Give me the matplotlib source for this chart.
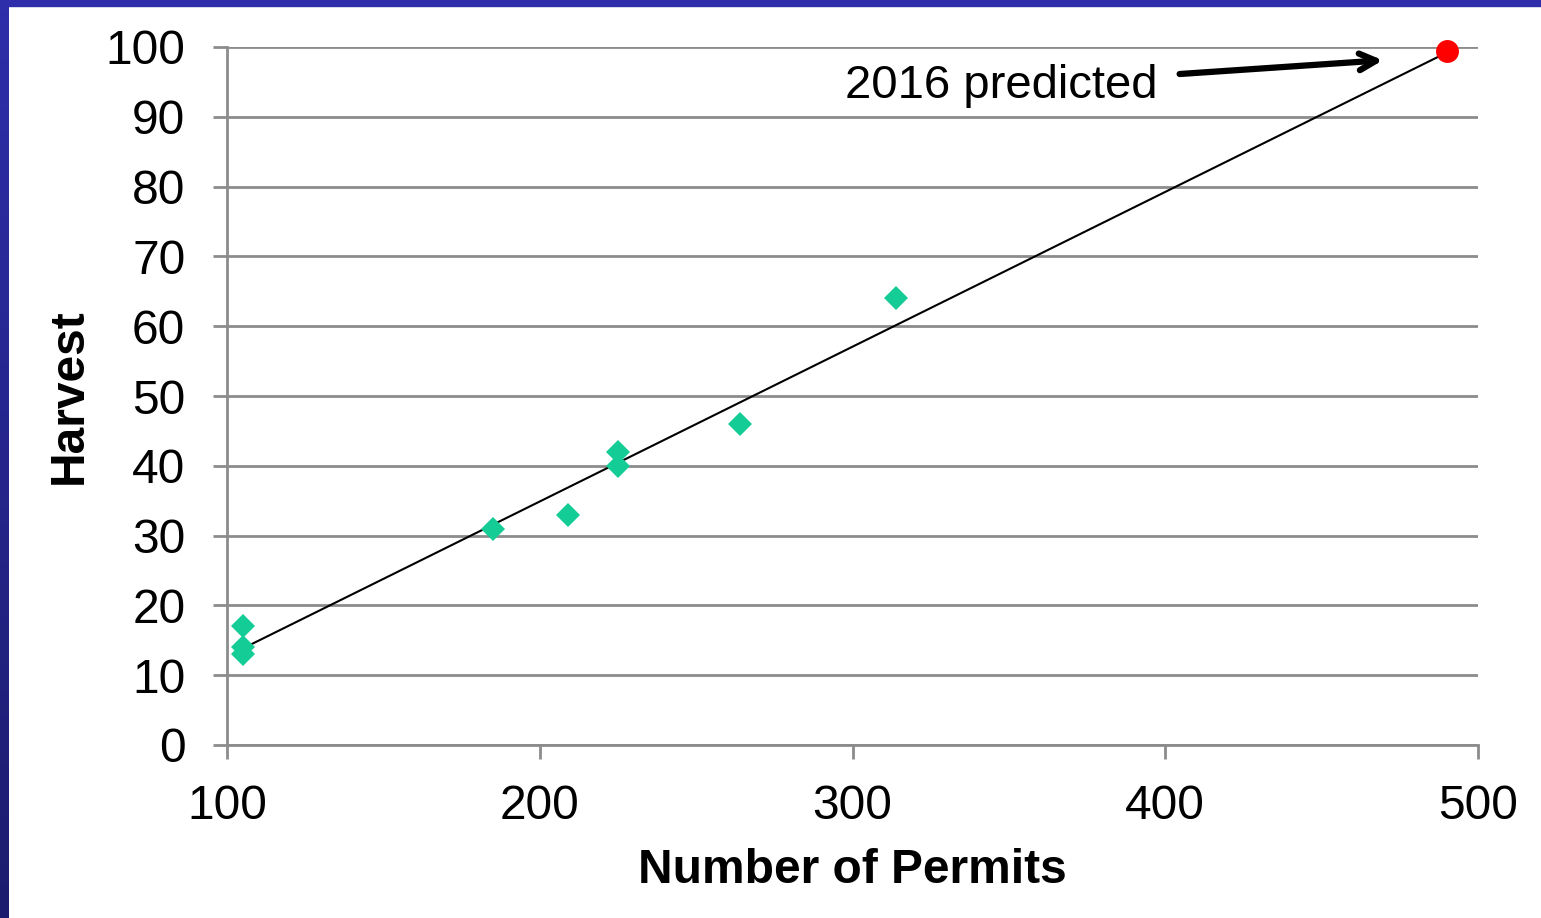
import numpy as np
import matplotlib.pyplot as plt
from matplotlib.patches import Rectangle
from matplotlib.colors import LinearSegmentedColormap

permits = np.array([105, 105, 105, 185, 209, 225, 225, 264, 314])
harvest = np.array([17, 14, 13, 31, 33, 42, 40, 46, 64])
pred_permits = 490
pred_harvest = 99.4

plt.rcParams['font.family'] = ['Liberation Sans', 'DejaVu Sans']

fig = plt.figure(figsize=(15.41, 9.18), dpi=100)
ax = fig.add_axes([227/1541, 1 - 745/918, (1478-227)/1541, (745-47)/918])

# trend line from the fit, drawn out to the predicted year
coef = np.polyfit(permits, harvest, 1)
xs = np.array([permits.min(), pred_permits])
ax.plot(xs, np.polyval(coef, xs), color='black', lw=1.5, zorder=3)

ax.plot(permits, harvest, 'D', color='#13CC96', ms=12, mew=0, zorder=4, clip_on=False)
ax.plot([pred_permits], [pred_harvest], 'o', color='#FF0000', ms=16.5, mew=0,
        zorder=5, clip_on=False)

ax.annotate('2016 predicted', xy=(469.6, 98.1), xytext=(397.5, 94.4),
            fontsize=34, ha='right', va='center',
            arrowprops=dict(arrowstyle='->', lw=4.5, color='black', mutation_scale=30,
                            shrinkA=14, shrinkB=0))

ax.set_xlim(100, 500)
ax.set_ylim(0, 100)
ax.set_xticks([100, 200, 300, 400, 500])
ax.set_yticks(range(0, 101, 10))
ax.grid(axis='y', color='#8C8C8C', lw=2)
ax.set_axisbelow(True)
for s in ['top', 'right']:
    ax.spines[s].set_visible(False)
for s in ['left', 'bottom']:
    ax.spines[s].set_color('#8C8C8C')
    ax.spines[s].set_linewidth(2)
ax.tick_params(axis='both', length=10, width=2, color='#8C8C8C', labelsize=34.5)
ax.tick_params(axis='x', pad=18)
ax.tick_params(axis='y', pad=20)
ax.set_xlabel('Number of Permits', fontsize=34.5, fontweight='bold', labelpad=14)
ax.set_ylabel('Harvest', fontsize=34.5, fontweight='bold', labelpad=10)

# slide frame: blue strip on top, darkening strip on the left
fig.patches.append(Rectangle((0, 1 - 6/918), 1, 6/918, transform=fig.transFigure,
                             color='#2E2EAA', zorder=10))
bar = fig.add_axes([0, 0, 9/1541, 1 - 6/918])
grad = np.linspace(0, 1, 256).reshape(-1, 1)
cmap = LinearSegmentedColormap.from_list('frame', ['#2E2EAA', '#1C1C6E'])
bar.imshow(grad, aspect='auto', cmap=cmap, extent=[0, 1, 0, 1])
bar.axis('off')

fig.savefig('out.png', dpi=100)
